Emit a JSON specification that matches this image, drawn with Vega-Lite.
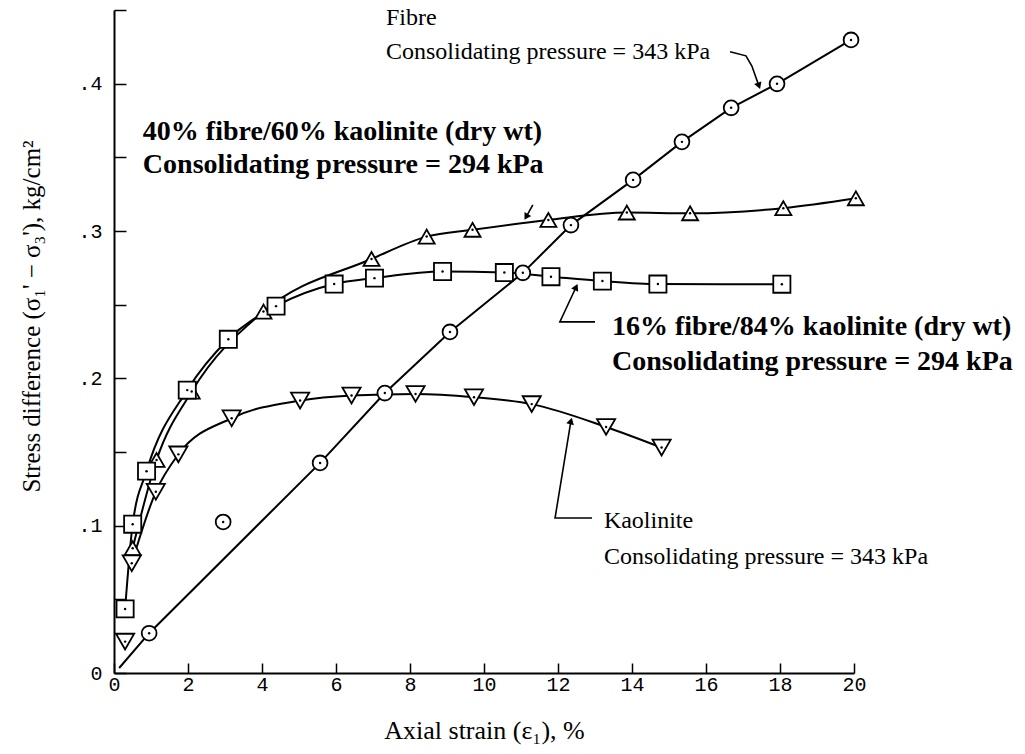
{
  "$schema": "https://vega.github.io/schema/vega-lite/v6.json",
  "width": 740,
  "height": 663,
  "autosize": {"type": "none"},
  "padding": {"left": 114, "top": 10, "right": 171, "bottom": 81},
  "background": "white",
  "config": {"view": {"stroke": null}},
  "datasets": {
    "markers": [
      {"s": "Fibre", "x": 0.95, "y": 0.027},
      {"s": "Fibre", "x": 2.95, "y": 0.1025},
      {"s": "Fibre", "x": 5.57, "y": 0.1426},
      {"s": "Fibre", "x": 7.32, "y": 0.19},
      {"s": "Fibre", "x": 9.08, "y": 0.2315},
      {"s": "Fibre", "x": 11.05, "y": 0.2716},
      {"s": "Fibre", "x": 12.35, "y": 0.304},
      {"s": "Fibre", "x": 14.03, "y": 0.3347},
      {"s": "Fibre", "x": 15.35, "y": 0.3605},
      {"s": "Fibre", "x": 16.68, "y": 0.3836},
      {"s": "Fibre", "x": 17.92, "y": 0.3999},
      {"s": "Fibre", "x": 19.92, "y": 0.4297},
      {"s": "F40", "x": 0.505, "y": 0.0847},
      {"s": "F40", "x": 1.15, "y": 0.1446},
      {"s": "F40", "x": 2.1, "y": 0.191},
      {"s": "F40", "x": 4.04, "y": 0.2453},
      {"s": "F40", "x": 6.96, "y": 0.281},
      {"s": "F40", "x": 8.45, "y": 0.2962},
      {"s": "F40", "x": 9.69, "y": 0.3008},
      {"s": "F40", "x": 11.74, "y": 0.3075},
      {"s": "F40", "x": 13.86, "y": 0.3125},
      {"s": "F40", "x": 15.57, "y": 0.312},
      {"s": "F40", "x": 18.09, "y": 0.3155},
      {"s": "F40", "x": 20.05, "y": 0.3222},
      {"s": "F16", "x": 0.3, "y": 0.0435},
      {"s": "F16", "x": 0.505, "y": 0.101},
      {"s": "F16", "x": 0.88, "y": 0.137},
      {"s": "F16", "x": 1.98, "y": 0.192},
      {"s": "F16", "x": 3.09, "y": 0.2265},
      {"s": "F16", "x": 4.38, "y": 0.249},
      {"s": "F16", "x": 5.95, "y": 0.264},
      {"s": "F16", "x": 7.04, "y": 0.268},
      {"s": "F16", "x": 8.88, "y": 0.2725},
      {"s": "F16", "x": 10.55, "y": 0.2718},
      {"s": "F16", "x": 11.81, "y": 0.269},
      {"s": "F16", "x": 13.2, "y": 0.266},
      {"s": "F16", "x": 14.7, "y": 0.264},
      {"s": "F16", "x": 18.05, "y": 0.2639},
      {"s": "Kaolinite", "x": 0.3, "y": 0.0213},
      {"s": "Kaolinite", "x": 0.48, "y": 0.0745},
      {"s": "Kaolinite", "x": 1.13, "y": 0.123},
      {"s": "Kaolinite", "x": 1.74, "y": 0.1484},
      {"s": "Kaolinite", "x": 3.18, "y": 0.1729},
      {"s": "Kaolinite", "x": 5.03, "y": 0.1849},
      {"s": "Kaolinite", "x": 6.42, "y": 0.1883},
      {"s": "Kaolinite", "x": 8.15, "y": 0.1894},
      {"s": "Kaolinite", "x": 9.73, "y": 0.1872},
      {"s": "Kaolinite", "x": 11.29, "y": 0.1825},
      {"s": "Kaolinite", "x": 13.3, "y": 0.167},
      {"s": "Kaolinite", "x": 14.8, "y": 0.153}
    ],
    "fibreLine": [
      {"x": 0.14, "y": 0.0034},
      {"x": 0.95, "y": 0.027},
      {"x": 5.57, "y": 0.1426},
      {"x": 7.32, "y": 0.19},
      {"x": 9.08, "y": 0.2315},
      {"x": 11.05, "y": 0.2716},
      {"x": 12.35, "y": 0.304},
      {"x": 14.03, "y": 0.3347},
      {"x": 15.35, "y": 0.3605},
      {"x": 16.68, "y": 0.3836},
      {"x": 17.92, "y": 0.3999},
      {"x": 19.92, "y": 0.4297}
    ],
    "curves": [
      {"s": "F40", "x": 0.505, "y": 0.0847},
      {"s": "F40", "x": 1.15, "y": 0.1446},
      {"s": "F40", "x": 2.1, "y": 0.191},
      {"s": "F40", "x": 4.04, "y": 0.2453},
      {"s": "F40", "x": 6.96, "y": 0.281},
      {"s": "F40", "x": 8.45, "y": 0.2962},
      {"s": "F40", "x": 9.69, "y": 0.3008},
      {"s": "F40", "x": 11.74, "y": 0.3075},
      {"s": "F40", "x": 13.86, "y": 0.3125},
      {"s": "F40", "x": 15.57, "y": 0.312},
      {"s": "F40", "x": 18.09, "y": 0.3155},
      {"s": "F40", "x": 20.05, "y": 0.3222},
      {"s": "F16", "x": 0.3, "y": 0.0435},
      {"s": "F16", "x": 0.505, "y": 0.101},
      {"s": "F16", "x": 0.88, "y": 0.137},
      {"s": "F16", "x": 1.98, "y": 0.192},
      {"s": "F16", "x": 3.09, "y": 0.2265},
      {"s": "F16", "x": 4.38, "y": 0.249},
      {"s": "F16", "x": 5.95, "y": 0.264},
      {"s": "F16", "x": 7.04, "y": 0.268},
      {"s": "F16", "x": 8.88, "y": 0.2725},
      {"s": "F16", "x": 10.55, "y": 0.2718},
      {"s": "F16", "x": 11.81, "y": 0.269},
      {"s": "F16", "x": 13.2, "y": 0.266},
      {"s": "F16", "x": 14.7, "y": 0.264},
      {"s": "F16", "x": 18.05, "y": 0.2639},
      {"s": "Kaolinite", "x": 0.48, "y": 0.0745},
      {"s": "Kaolinite", "x": 1.13, "y": 0.123},
      {"s": "Kaolinite", "x": 1.74, "y": 0.1484},
      {"s": "Kaolinite", "x": 3.18, "y": 0.1729},
      {"s": "Kaolinite", "x": 5.03, "y": 0.1849},
      {"s": "Kaolinite", "x": 6.42, "y": 0.1883},
      {"s": "Kaolinite", "x": 8.15, "y": 0.1894},
      {"s": "Kaolinite", "x": 9.73, "y": 0.1872},
      {"s": "Kaolinite", "x": 11.29, "y": 0.1825},
      {"s": "Kaolinite", "x": 13.3, "y": 0.167},
      {"s": "Kaolinite", "x": 14.8, "y": 0.153}
    ],
    "labels": [
      {"x": 7.35, "y": 0.4447, "t": "Fibre", "w": "normal"},
      {"x": 7.35, "y": 0.4216, "t": "Consolidating pressure = 343 kPa", "w": "normal"},
      {"x": 0.78, "y": 0.3673, "t": "40% fibre/60% kaolinite (dry wt)", "w": "bold"},
      {"x": 0.78, "y": 0.3449, "t": "Consolidating pressure = 294 kPa", "w": "bold"},
      {"x": 13.46, "y": 0.2349, "t": "16% fibre/84% kaolinite (dry wt)", "w": "bold"},
      {"x": 13.46, "y": 0.2111, "t": "Consolidating pressure = 294 kPa", "w": "bold"},
      {"x": 13.24, "y": 0.1032, "t": "Kaolinite", "w": "normal"},
      {"x": 13.24, "y": 0.0788, "t": "Consolidating pressure = 343 kPa", "w": "normal"}
    ],
    "arrows": [
      {"id": "a1", "o": 1, "x": 16.65, "y": 0.4216},
      {"id": "a1", "o": 2, "x": 17.08, "y": 0.4189},
      {"id": "a1", "o": 3, "x": 17.24, "y": 0.412},
      {"id": "a1", "o": 4, "x": 17.43, "y": 0.3985},
      {"id": "a2", "o": 1, "x": 11.32, "y": 0.3177},
      {"id": "a2", "o": 2, "x": 11.14, "y": 0.3096},
      {"id": "a3", "o": 1, "x": 13.0, "y": 0.2383},
      {"id": "a3", "o": 2, "x": 12.05, "y": 0.2383},
      {"id": "a3", "o": 3, "x": 12.49, "y": 0.262},
      {"id": "a4", "o": 1, "x": 12.92, "y": 0.1052},
      {"id": "a4", "o": 2, "x": 11.92, "y": 0.1052},
      {"id": "a4", "o": 3, "x": 12.35, "y": 0.1711}
    ],
    "heads": [
      {"x": 17.43, "y": 0.3985, "a": 160},
      {"x": 11.14, "y": 0.3096, "a": 210},
      {"x": 12.49, "y": 0.262, "a": 25},
      {"x": 12.35, "y": 0.1711, "a": 15}
    ]
  },
  "encoding": {
    "x": {
      "field": "x", "type": "quantitative",
      "scale": {"domain": [0, 20], "nice": false, "zero": false},
      "axis": {
        "values": [0, 2, 4, 6, 8, 10, 12, 14, 16, 18, 20],
        "title": "Axial strain (ε₁), %",
        "grid": false,
        "tickSize": -10, "tickWidth": 1.5, "tickColor": "black",
        "domainColor": "black", "domainWidth": 2,
        "labelFont": "Liberation Mono", "labelFontSize": 20, "labelColor": "black",
        "labelPadding": 11, "labelFlush": false, "labelOverlap": false,
        "titleFont": "Liberation Serif", "titleFontSize": 26, "titleFontWeight": "normal",
        "titleColor": "black", "titleBaseline": "middle", "titleY": 57
      }
    },
    "y": {
      "field": "y", "type": "quantitative",
      "scale": {"domain": [0, 0.45], "nice": false, "zero": false},
      "axis": {
        "values": [0, 0.05, 0.1, 0.15, 0.2, 0.25, 0.3, 0.35, 0.4, 0.45],
        "labelExpr": "datum.value == 0 ? '0' : (abs(datum.value*10 - round(datum.value*10)) < 0.01 ? '.' + round(datum.value*10) : '')",
        "title": "Stress difference (σ₁' − σ₃'), kg/cm²",
        "grid": false,
        "tickSize": -12, "tickWidth": 1.5, "tickColor": "black",
        "domainColor": "black", "domainWidth": 2,
        "labelFont": "Liberation Mono", "labelFontSize": 20, "labelColor": "black",
        "labelPadding": 24, "labelOverlap": false, "labelFlush": false,
        "titleFont": "Liberation Serif", "titleFontSize": 25, "titleFontWeight": "normal",
        "titleColor": "black", "titleBaseline": "middle", "titleAngle": -90,
        "titleX": -83, "titleY": 306, "titleAlign": "center"
      }
    }
  },
  "layer": [
    {
      "data": {"name": "fibreLine"},
      "mark": {"type": "line", "color": "black", "strokeWidth": 2}
    },
    {
      "data": {"name": "curves"},
      "mark": {"type": "line", "color": "black", "strokeWidth": 2, "interpolate": "monotone"},
      "encoding": {"detail": {"field": "s"}}
    },
    {
      "data": {"name": "arrows"},
      "mark": {"type": "line", "color": "black", "strokeWidth": 1.6},
      "encoding": {"detail": {"field": "id"}, "order": {"field": "o", "type": "quantitative"}}
    },
    {
      "data": {"name": "heads"},
      "mark": {"type": "point", "shape": "triangle-up", "filled": true, "color": "black", "size": 60, "opacity": 1},
      "encoding": {"angle": {"field": "a", "type": "quantitative", "scale": null}}
    },
    {
      "data": {"name": "markers"},
      "mark": {"type": "point", "filled": true, "fill": "white", "stroke": "black", "strokeWidth": 1.8, "opacity": 1},
      "encoding": {
        "shape": {"field": "s", "type": "nominal", "scale": {"domain": ["Fibre", "F40", "F16", "Kaolinite"], "range": ["circle", "triangle-up", "square", "triangle-down"]}, "legend": null},
        "size": {"field": "s", "type": "ordinal", "scale": {"domain": ["Fibre", "F40", "F16", "Kaolinite"], "range": [220, 330, 240, 330]}, "legend": null}
      }
    },
    {
      "data": {"name": "markers"},
      "mark": {"type": "point", "filled": true, "color": "black", "size": 6, "opacity": 1}
    },
    {
      "data": {"name": "labels"},
      "transform": [{"filter": "datum.w == 'normal'"}],
      "mark": {"type": "text", "align": "left", "baseline": "middle", "font": "Liberation Serif", "fontSize": 24, "color": "black"},
      "encoding": {"text": {"field": "t"}}
    },
    {
      "data": {"name": "labels"},
      "transform": [{"filter": "datum.w == 'bold'"}],
      "mark": {"type": "text", "align": "left", "baseline": "middle", "font": "Liberation Serif", "fontSize": 28, "fontWeight": "bold", "color": "black"},
      "encoding": {"text": {"field": "t"}}
    }
  ]
}
